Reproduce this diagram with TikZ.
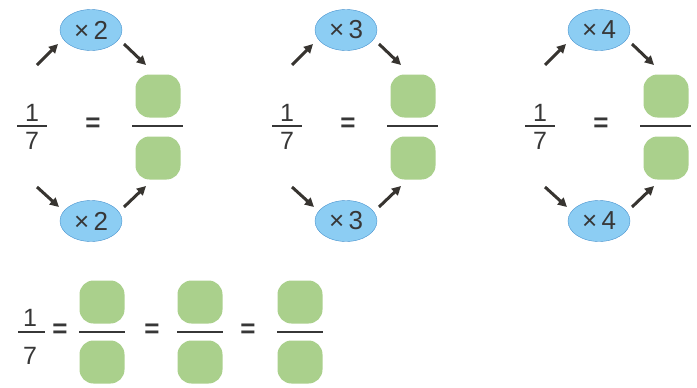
\documentclass[tikz,border=0pt]{standalone}
\usepackage{fontspec}
\setmainfont{Liberation Sans}
\usetikzlibrary{arrows.meta, positioning, shapes.geometric}
\definecolor{boxgreen}{RGB}{170,208,140}
\definecolor{ovalblue}{RGB}{140,205,243}
\definecolor{ovalline}{RGB}{70,145,205}
\definecolor{arrowgray}{RGB}{55,52,48}
\definecolor{numgray}{RGB}{55,55,55}

\begin{document}
\begin{tikzpicture}[
  x=1pt, y=-1pt,
  num/.style={font=\fontsize{25}{25}\selectfont, text=numgray, inner sep=0pt},
  eqsign/.style={font=\fontsize{26}{26}\selectfont\bfseries, text=numgray, inner sep=0pt},
  oval/.style={draw=ovalline, fill=ovalblue, ellipse, minimum width=62pt,
               minimum height=41pt, inner sep=0pt, font=\fontsize{26}{26}\selectfont, text=numgray},
  blank/.style={fill=boxgreen, rounded corners=14pt, minimum width=45pt,
                minimum height=43pt, inner sep=0pt},
  bar/.style={line width=1.4pt, draw=numgray},
  arr/.style={-{Triangle[length=9pt,width=9pt]}, line width=3pt, draw=arrowgray}
]
  \useasboundingbox (0,0) rectangle (697,388);

  % three panels with multiplier
  \foreach \dx/\k in {0/2, 255/3, 508/4} {
    \begin{scope}[xshift=\dx]
      \node[num] (one\k)   at (32,113) {1};
      \node[num] (seven\k) at (32,141) {7};
      \coordinate (fl\k) at (17,126);
      \coordinate (fr\k) at (47,126);
      \draw[bar] (fl\k) -- (fr\k);
      \node[eqsign] (eq\k) at (93,125) {=};

      \node[blank] (numer\k) at (158,96) {};
      \node[blank] (denom\k) at (158,158) {};
      \coordinate (bl\k) at (132,126);
      \coordinate (br\k) at (183,126);
      \draw[bar] (bl\k) -- (br\k);

      \node[oval] (top\k) at (91,30)  {×\,\k};
      \node[oval] (bot\k) at (91,221) {×\,\k};

      \coordinate (a\k) at (37,65);
      \coordinate (b\k) at (58,44);
      \coordinate (c\k) at (124,44);
      \coordinate (d\k) at (146,65);
      \coordinate (e\k) at (37,187);
      \coordinate (f\k) at (59,207);
      \coordinate (g\k) at (124,207);
      \coordinate (h\k) at (146,186);
      \draw[arr] (a\k) -- (b\k);
      \draw[arr] (c\k) -- (d\k);
      \draw[arr] (e\k) -- (f\k);
      \draw[arr] (g\k) -- (h\k);
    \end{scope}
  }

  % chain of equal fractions
  \node[num] (one)   at (30,318) {1};
  \node[num] (seven) at (30,356) {7};
  \coordinate (sl) at (18,332);
  \coordinate (sr) at (45,332);
  \draw[bar] (sl) -- (sr);
  \node[eqsign] (eqa) at (60,331) {=};
  \node[eqsign] (eqb) at (152,331) {=};
  \node[eqsign] (eqc) at (248,331) {=};
  \foreach \i/\x in {1/102, 2/200, 3/300} {
    \node[blank] (up\i) at (\x,302) {};
    \node[blank] (dn\i) at (\x,362) {};
    \coordinate (ul\i) at (\x-23,332);
    \coordinate (ur\i) at (\x+23,332);
    \draw[bar] (ul\i) -- (ur\i);
  }
\end{tikzpicture}
\end{document}
